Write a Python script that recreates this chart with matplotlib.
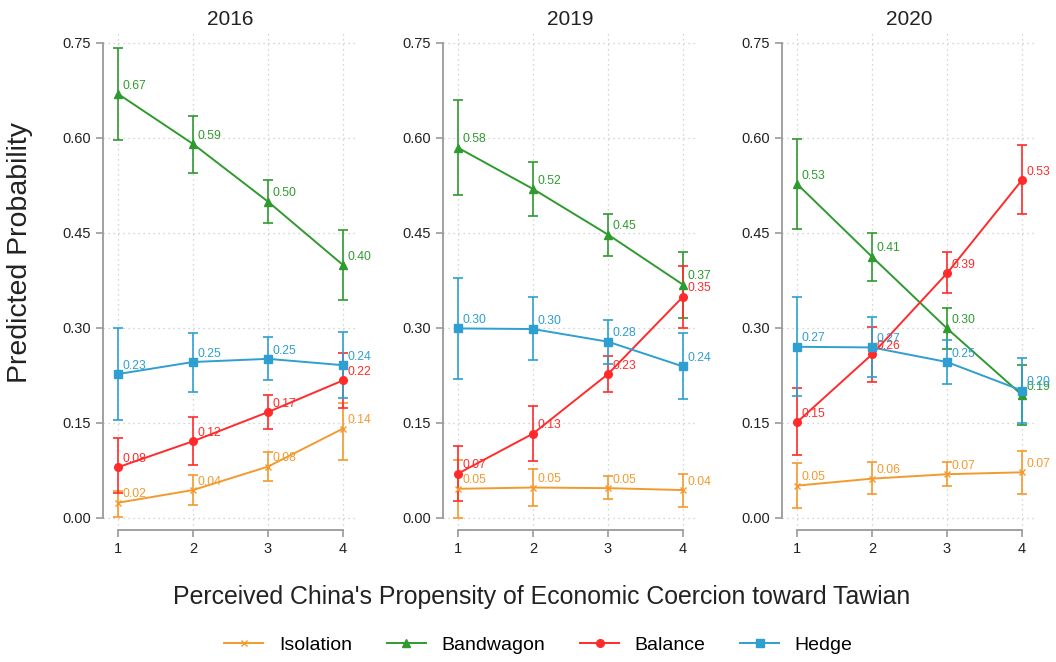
import numpy as np
import matplotlib.pyplot as plt
from matplotlib.lines import Line2D

plt.rcParams['font.family'] = ['Liberation Sans', 'DejaVu Sans']

years = ['2016', '2019', '2020']
x = [1, 2, 3, 4]
series = ['Isolation', 'Bandwagon', 'Balance', 'Hedge']

# predicted probabilities, rows = years
isolation = [[0.024, 0.044, 0.081, 0.141],
             [0.046, 0.048, 0.047, 0.044],
             [0.051, 0.062, 0.069, 0.072]]
isolation_lo = [[0.002, 0.021, 0.059, 0.091],
                [0.000, 0.019, 0.030, 0.018],
                [0.016, 0.037, 0.050, 0.038]]
isolation_hi = [[0.042, 0.068, 0.104, 0.181],
                [0.091, 0.078, 0.066, 0.070],
                [0.086, 0.088, 0.089, 0.105]]

bandwagon = [[0.669, 0.590, 0.499, 0.399],
             [0.584, 0.519, 0.447, 0.368],
             [0.527, 0.412, 0.299, 0.194]]
bandwagon_lo = [[0.597, 0.544, 0.465, 0.344],
                [0.510, 0.477, 0.414, 0.315],
                [0.456, 0.374, 0.267, 0.147]]
bandwagon_hi = [[0.742, 0.634, 0.533, 0.455],
                [0.660, 0.561, 0.479, 0.419],
                [0.598, 0.449, 0.331, 0.241]]

balance = [[0.080, 0.121, 0.167, 0.217],
           [0.070, 0.133, 0.227, 0.349],
           [0.151, 0.258, 0.386, 0.533]]
balance_lo = [[0.039, 0.083, 0.141, 0.174],
              [0.026, 0.090, 0.198, 0.300],
              [0.100, 0.214, 0.355, 0.480]]
balance_hi = [[0.126, 0.159, 0.194, 0.260],
              [0.113, 0.176, 0.256, 0.398],
              [0.205, 0.301, 0.419, 0.589]]

hedge = [[0.227, 0.246, 0.251, 0.241],
         [0.299, 0.298, 0.278, 0.239],
         [0.270, 0.269, 0.246, 0.201]]
hedge_lo = [[0.155, 0.199, 0.218, 0.190],
            [0.219, 0.249, 0.243, 0.187],
            [0.193, 0.223, 0.212, 0.150]]
hedge_hi = [[0.300, 0.292, 0.285, 0.293],
            [0.379, 0.348, 0.313, 0.291],
            [0.348, 0.317, 0.280, 0.252]]

colors = {'Isolation': '#F39A2E', 'Bandwagon': '#2F9A2F',
          'Balance': '#FF2B2B', 'Hedge': '#2E9FD0'}
markers = {'Isolation': 'x', 'Bandwagon': '^', 'Balance': 'o', 'Hedge': 's'}
msize = {'Isolation': 5, 'Bandwagon': 6, 'Balance': 5.5, 'Hedge': 5.5}
data = {'Isolation': (isolation, isolation_lo, isolation_hi),
        'Bandwagon': (bandwagon, bandwagon_lo, bandwagon_hi),
        'Balance': (balance, balance_lo, balance_hi),
        'Hedge': (hedge, hedge_lo, hedge_hi)}

fig = plt.figure(figsize=(10.56, 6.62), dpi=100)
lefts = [103 / 1056, 443 / 1056, 782 / 1056]
w = 255 / 1056
bot = 1 - 530 / 662
h = 497 / 662
spine_col = '#9a9a9a'

for k, yr in enumerate(years):
    ax = fig.add_axes([lefts[k], bot, w, h])
    for s in series:
        y, lo, hi = data[s]
        y = np.array(y[k]); lo = np.array(lo[k]); hi = np.array(hi[k])
        c = colors[s]
        ax.errorbar(x, y, yerr=[y - lo, hi - y], color=c, marker=markers[s],
                    markersize=msize[s], linewidth=1.4, elinewidth=1.2,
                    capsize=3.5, capthick=1.2, zorder=3)
        for xi, yi in zip(x, y):
            ax.annotate('{:.2f}'.format(yi), (xi, yi), xytext=(3, 6),
                        textcoords='offset points', fontsize=8.7, color=c,
                        va='center', ha='left', zorder=4)
    ax.set_xlim(0.8, 4.2)
    ax.set_ylim(-0.019, 0.765)
    ax.set_xticks(x)
    ax.set_yticks([0, 0.15, 0.30, 0.45, 0.60, 0.75])
    ax.set_yticklabels(['0.00', '0.15', '0.30', '0.45', '0.60', '0.75'])
    ax.grid(True, linestyle=(0, (1, 3)), color='#c8c8c8', linewidth=0.9)
    ax.set_axisbelow(True)
    for sp in ['top', 'right']:
        ax.spines[sp].set_visible(False)
    ax.spines['left'].set_bounds(0, 0.75)
    ax.spines['bottom'].set_bounds(1, 4)
    for sp in ['left', 'bottom']:
        ax.spines[sp].set_color(spine_col)
        ax.spines[sp].set_linewidth(1.3)
    ax.tick_params(colors=spine_col, labelcolor='#222222', labelsize=10.5,
                   length=5, width=1.2)
    ax.set_title(yr, fontsize=15, color='#222222', pad=6)

fig.text(0.019, 0.618, 'Predicted Probability', rotation=90, fontsize=20.5,
         ha='center', va='center', color='#222222')
fig.text(0.513, 0.098, "Perceived China's Propensity of Economic Coercion toward Tawian",
         fontsize=17.9, ha='center', va='center', color='#222222')

handles = [Line2D([0], [0], color=colors[s], marker=markers[s],
                  markersize=msize[s], linewidth=1.4) for s in series]
fig.legend(handles, series, loc='center', bbox_to_anchor=(0.51, 0.025),
           ncol=4, frameon=False, fontsize=14, handlelength=2.0,
           columnspacing=1.8, handletextpad=0.8)

fig.savefig('out.png', dpi=100)
